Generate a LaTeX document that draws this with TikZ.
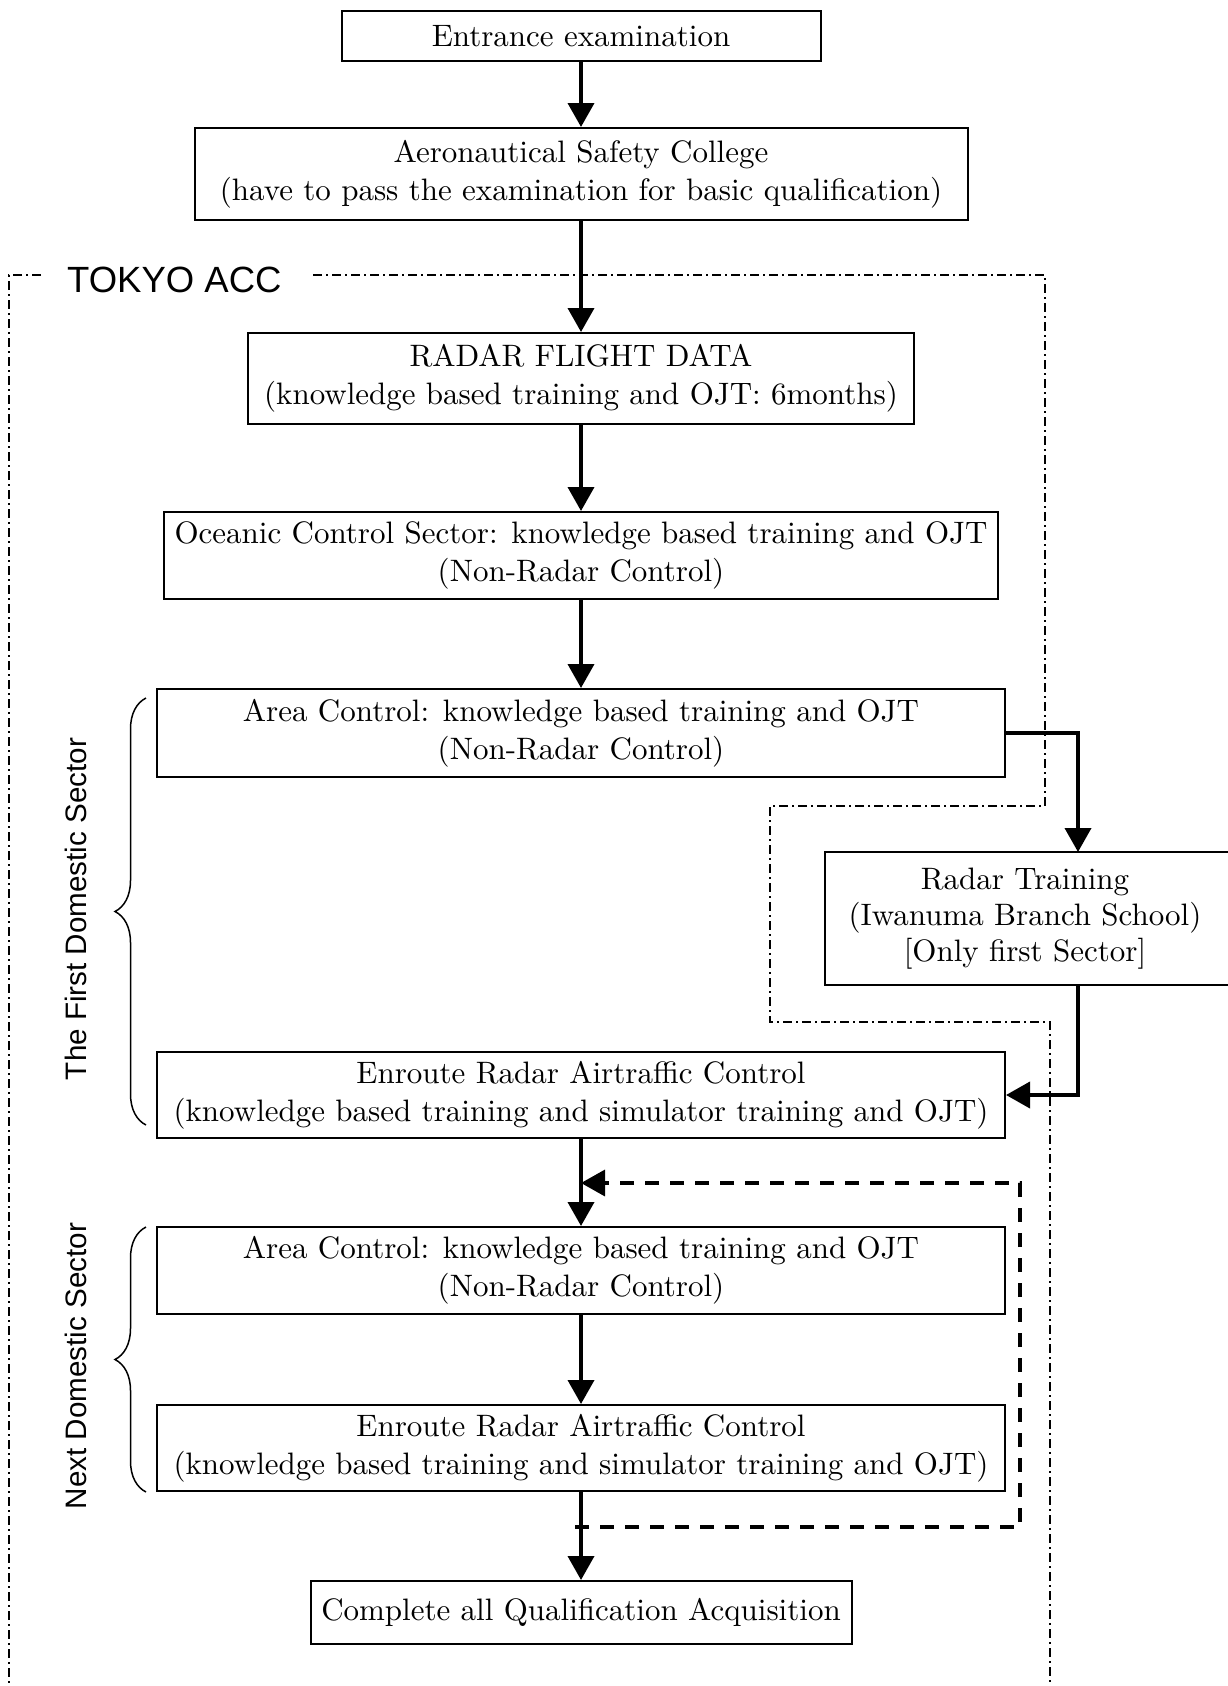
\documentclass[tikz,border=0pt]{standalone}
\usepackage{fontspec}
\setmainfont{lmroman10-regular.otf}
\newfontfamily\labelfont{Liberation Sans}
\usetikzlibrary{arrows.meta,decorations.pathreplacing,calc}
\begin{document}
\begin{tikzpicture}[x=1pt,y=-1pt,
  box/.style={draw, line width=2pt, align=center, inner sep=0pt,
    font=\fontsize{31}{38}\selectfont},
  flow/.style={line width=3.8pt, -{Triangle[width=26pt,length=24pt]}},
  loopline/.style={line width=3.5pt, dash pattern=on 14pt off 11pt,
    -{Triangle[width=26pt,length=24pt]}},
  bnd/.style={line width=1.3pt, dash pattern=on 9pt off 4pt on 2pt off 4pt},
  sectorlabel/.style={rotate=90, inner sep=0pt,
    font=\labelfont\fontsize{29.6}{32}\selectfont},
  bracestyle/.style={line width=1.5pt, decorate,
    decoration={brace, amplitude=31pt}}]
\useasboundingbox[fill=white] (0,0) rectangle (1228,1686);

% boundary of TOKYO ACC
\draw[bnd] (41,275) -- (9,275) -- (9,1700);
\draw[bnd] (313,275) -- (1045,275) -- (1045,806) -- (770,806) -- (770,1022)
  -- (1050,1022) -- (1050,1700);
\node[anchor=base west, inner sep=0pt, font=\labelfont\fontsize{36.5}{40}\selectfont]
  (acc) at (67,292) {TOKYO ACC};

% boxes
\node[box, minimum width=479pt, minimum height=50pt] (entr) at (581,36)
  {Entrance examination};
\node[box, minimum width=773pt, minimum height=92pt] (asc) at (581,174)
  {Aeronautical Safety College\\(have to pass the examination for basic qualification)};
\node[box, minimum width=666pt, minimum height=91pt] (rfd) at (581,378.5)
  {RADAR FLIGHT DATA\\(knowledge based training and OJT: 6months)};
\node[box, minimum width=834pt, minimum height=87pt] (ocean) at (581,555.5)
  {Oceanic Control Sector: knowledge based training and OJT\\(Non-Radar Control)};
\node[box, minimum width=848pt, minimum height=88pt] (area1) at (581,733)
  {Area Control: knowledge based training and OJT\\(Non-Radar Control)};
\node[box, draw=none, minimum width=398pt, minimum height=131pt,
  font=\fontsize{31}{36}\selectfont] (radar) at (1025,918.5)
  {Radar Training\\(Iwanuma Branch School)\\{[Only first Sector]}};
\draw[line width=2pt] (radar.north west) rectangle ($(radar.south east)+(20,0)$);
\node[box, minimum width=848pt, minimum height=86pt] (enr1) at (581,1095)
  {Enroute Radar Airtraffic Control\\(knowledge based training and simulator training and OJT)};
\node[box, minimum width=848pt, minimum height=87pt] (area2) at (581,1270.5)
  {Area Control: knowledge based training and OJT\\(Non-Radar Control)};
\node[box, minimum width=848pt, minimum height=86pt] (enr2) at (581,1448)
  {Enroute Radar Airtraffic Control\\(knowledge based training and simulator training and OJT)};
\node[box, minimum width=541pt, minimum height=63pt] (comp) at (581,1612.5)
  {Complete all Qualification Acquisition};

% sector braces and labels
\draw[bracestyle] (146,1125) -- (146,698);
\node[sectorlabel] (first) at (76,909) {The First Domestic Sector};
\draw[bracestyle] (146,1492) -- (146,1227);
\node[sectorlabel] (next) at (76,1366) {Next Domestic Sector};

% main flow
\draw[flow] (entr) -- (asc);
\draw[flow] (asc) -- (rfd);
\draw[flow] (rfd) -- (ocean);
\draw[flow] (ocean) -- (area1);
\coordinate (rx) at (1078,0);
\draw[flow] (area1.east) -| (radar.north -| rx);
\draw[flow] (radar.south -| rx) |- (enr1.east);
\draw[flow] (enr1) -- (area2);
\draw[flow] (area2) -- (enr2);
\draw[flow] (enr2) -- (comp);

% repeat loop
\coordinate (lpa) at (575,1527);
\coordinate (lpb) at (1020,1527);
\coordinate (lpc) at (1020,1183);
\coordinate (lpd) at (581,1183);
\draw[loopline] (lpa) -- (lpb) -- (lpc) -- (lpd);
\end{tikzpicture}
\end{document}
